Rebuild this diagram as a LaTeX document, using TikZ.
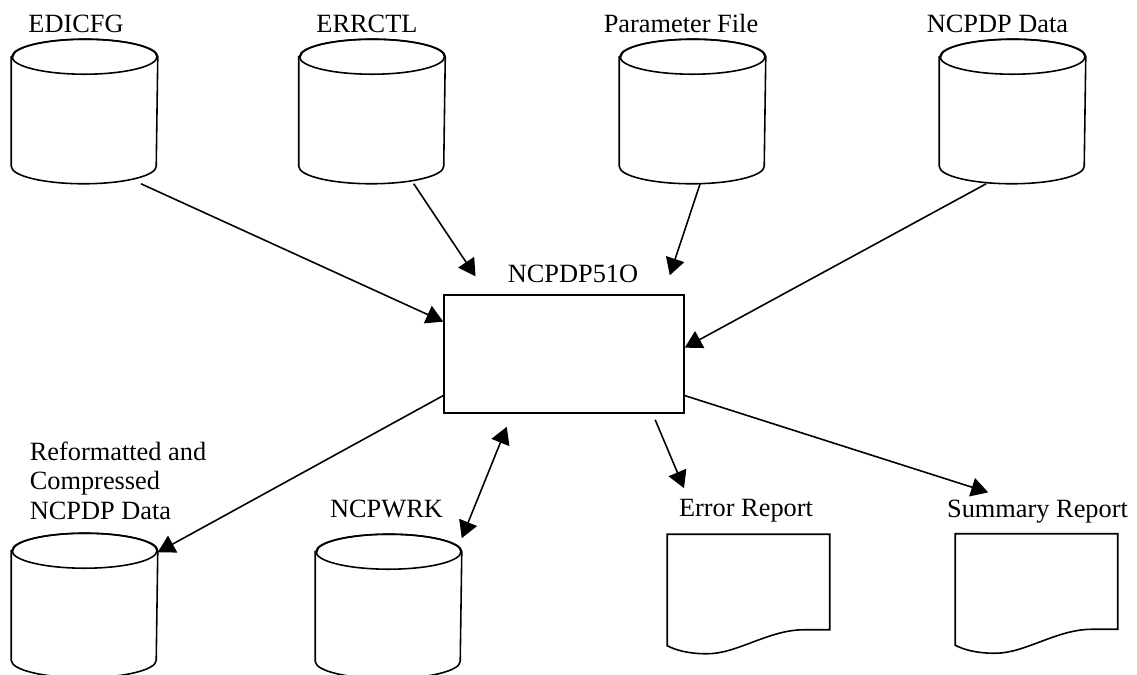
\documentclass[tikz,border=0pt]{standalone}
\usepackage{fontspec}
\setmainfont{Liberation Serif}
\usetikzlibrary{arrows.meta,calc}

\begin{document}
\begin{tikzpicture}[x=0.02cm, y=-0.02cm, line width=0.9pt,
  every node/.style={font=\fontsize{15}{16.8}\selectfont, inner sep=0pt},
  store/.style={minimum width=2.9cm, minimum height=2.86cm},
  proc/.style={draw, fill=white, minimum width=4.8cm, minimum height=2.36cm},
  report/.style={minimum width=3.22cm, minimum height=2.36cm},
  flow/.style={-{Triangle[length=0.34cm, width=0.38cm]}},
  twoway/.style={{Triangle[length=0.34cm, width=0.38cm]}-{Triangle[length=0.34cm, width=0.38cm]}}]
  \useasboundingbox (0, 0) rectangle (1137, 675);
  \draw (84.5, 111.5) node[store] (edicfg) {};
  \draw (372, 111.5) node[store] (errctl) {};
  \draw (692.5, 111.5) node[store] (param) {};
  \draw (1012.5, 111.5) node[store] (ncpdp) {};
  \draw (84.5, 605.5) node[store] (reform) {};
  \draw (388.5, 606.5) node[store] (ncpwrk) {};
  \foreach \c in {edicfg, errctl, param, ncpdp, reform, ncpwrk} {
    \draw[fill=white] ($(\c.north west)+(0,17.5)$) -- ($(\c.south west)+(0,-17.5)$)
      arc[start angle=180, end angle=0, x radius=72.5, y radius=17.5]
      -- ($(\c.north east)+(0,17.5)$)
      arc[start angle=0, end angle=-180, x radius=72.5, y radius=17.5] -- cycle;
    \draw ($(\c.north)+(0,17.5)$) ellipse[x radius=72.5, y radius=17.5];
  }
  \draw (564, 354) node[proc] (proc) {};
  \draw (748.5, 594) node[report] (errrep) {};
  \draw (1036.5, 593.5) node[report] (sumrep) {};
  \foreach \r in {errrep, sumrep}
    \draw (\r.north west) -- (\r.north east) -- ($(\r.south east)+(0,-24)$)
      -- ($(\r.south east)+(-26,-24)$)
      .. controls ($(\r.south east)+(-61,-24)$) and ($(\r.south west)+(70,0)$) .. ($(\r.south west)+(40,0)$)
      .. controls ($(\r.south west)+(20,0)$) and ($(\r.south west)+(8,-4)$) .. ($(\r.south west)+(0,-8)$) -- cycle;
  \draw (76, 33) node[anchor=base] (edicfg-lbl) {EDICFG};
  \draw (367, 33) node[anchor=base] (errctl-lbl) {ERRCTL};
  \draw (681, 33) node[anchor=base] (param-lbl) {Parameter File};
  \draw (997.5, 33) node[anchor=base] (ncpdp-lbl) {NCPDP Data};
  \draw (573, 283) node[anchor=base] (proc-lbl) {NCPDP51O};
  \draw (29, 441) node[anchor=north west, align=left] (reform-lbl) {Reformatted and\\Compressed\\NCPDP Data};
  \draw (386.5, 518) node[anchor=base] (ncpwrk-lbl) {NCPWRK};
  \draw (746, 517) node[anchor=base] (errrep-lbl) {Error Report};
  \draw (1037.5, 518) node[anchor=base] (sumrep-lbl) {Summary Report};
  \draw[flow] (edicfg.-52) -- (proc.165.5);
  \draw[flow, shorten >=0.43cm] (errctl.-60) -- (proc.142.5);
  \draw[flow, shorten >=0.4cm] (param.-84) -- (proc.31.2);
  \draw[flow] (ncpdp.-110) -- (proc.3.3);
  \draw[flow] (proc.199.7) -- (reform.36);
  \draw[twoway, shorten >=0.28cm] (ncpwrk.43) -- (proc.229.4);
  \draw[flow, shorten <=0.13cm, shorten >=1cm] (proc.-34.7) -- (errrep.127.4);
  \draw[flow, shorten >=2.72cm] (proc.-19.7) -- (sumrep.north east);
\end{tikzpicture}
\end{document}
